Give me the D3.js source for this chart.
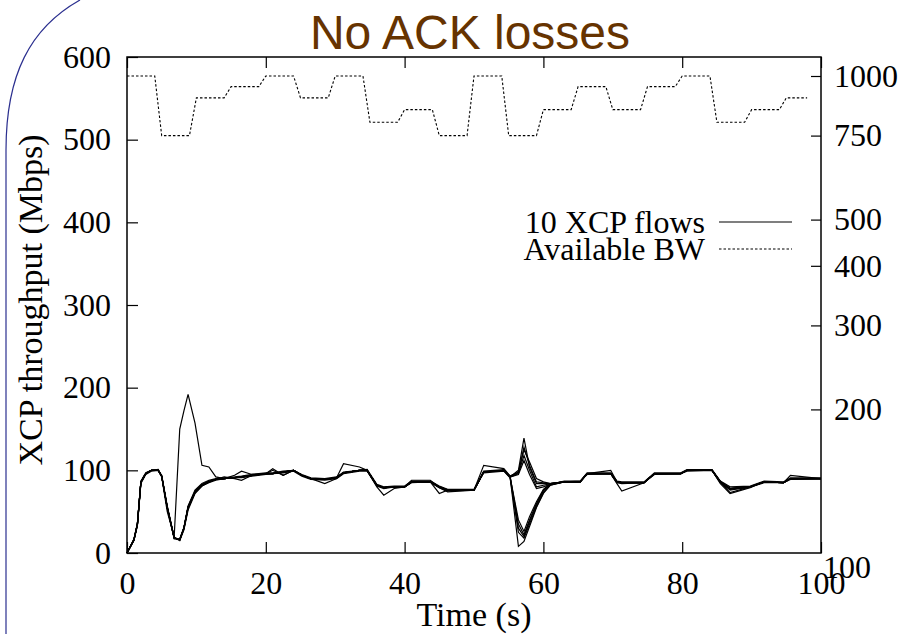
<!DOCTYPE html>
<html>
<head>
<meta charset="utf-8">
<script src="https://cdn.jsdelivr.net/npm/d3@7"></script>
<style>
  body { margin: 0; background: #fff; }
  text { font-family: "Liberation Serif", "Times New Roman", serif; fill: #000; }
  .title { font-family: "Liberation Sans", Arial, sans-serif; fill: #663300; }
  .flow-line { fill: none; stroke: #000; stroke-width: 1.2; }
  .bw-line { fill: none; stroke: #000; stroke-width: 1.1; stroke-dasharray: 2.5, 2; }
</style>
</head>
<body>
<svg width="910" height="634"></svg>
<script>
// time samples (s) shared by the 10 XCP flows
const flowTimes = [0, 1, 1.5, 2, 2.7, 3.5, 4.5, 5, 5.8, 6.8, 7.6, 8.2, 8.8, 9.8, 10.8,
  11.8, 12.8, 14, 15.5, 16.5, 18, 20, 21, 22.5, 24, 25.2, 26.5, 28.5, 30.2, 31.2,
  33.5, 34.6, 36, 37, 38.5, 40, 41, 43.7, 45, 46.2, 50, 51.4, 54.3, 55.2, 56.4,
  57.2, 58, 59, 60, 61, 63, 65.3, 66.3, 69.7, 70.6, 71.3, 74.5, 76, 79.8, 80.7,
  84.3, 85.5, 86.9, 89.8, 91.8, 94.6, 95.6, 100];

// throughput of each flow (Mbps)
const flow1 = [0, 16, 35, 86, 96, 100, 100, 93, 55, 18, 16, 30, 55, 74, 82,
  86, 89, 90, 91, 92, 94, 96, 96, 98, 100, 94, 90, 89, 91, 97,
  100, 100, 82, 79, 80, 80, 86, 86, 80, 76, 76, 98, 100, 92, 8,
  14, 32, 55, 72, 82, 86, 86, 96, 96, 86, 85, 85, 96, 96, 100,
  100, 86, 78, 80, 86, 85, 90, 90];
const flow2 = [0, 15, 33, 84, 95, 99, 100, 94, 57, 19, 15, 28, 52, 72, 81,
  85, 88, 90, 91, 91, 93, 95, 96, 97, 99, 93, 89, 88, 90, 96,
  99, 99, 81, 78, 80, 80, 85, 86, 79, 75, 76, 97, 99, 91, 25,
  18, 35, 56, 73, 82, 86, 87, 95, 96, 85, 84, 85, 95, 96, 99,
  100, 85, 77, 80, 85, 85, 89, 90];
const flow3 = [0, 17, 36, 87, 97, 100, 101, 93, 54, 17, 17, 31, 57, 76, 84,
  88, 90, 91, 92, 93, 95, 97, 97, 99, 100, 95, 91, 90, 92, 98,
  100, 101, 83, 80, 81, 81, 87, 87, 81, 77, 77, 99, 101, 93, 30,
  20, 38, 58, 75, 83, 87, 87, 97, 97, 87, 86, 86, 97, 97, 101,
  101, 87, 80, 81, 87, 86, 91, 91];
const flow4 = [0, 16, 34, 85, 96, 100, 100, 93, 55, 18, 16, 29, 54, 73, 81,
  86, 89, 90, 94, 99, 95, 96, 96, 98, 100, 94, 90, 89, 91, 97,
  100, 100, 80, 70, 78, 80, 86, 86, 79, 74, 76, 98, 100, 92, 35,
  22, 40, 60, 76, 83, 86, 86, 96, 96, 86, 85, 85, 96, 96, 100,
  100, 84, 72, 79, 86, 85, 90, 90];
const flow5 = [0, 16, 35, 86, 96, 100, 100, 93, 56, 18, 16, 30, 56, 75, 83,
  87, 89, 90, 91, 92, 94, 96, 102, 94, 100, 94, 90, 84, 90, 97,
  100, 100, 82, 79, 80, 80, 86, 86, 72, 76, 76, 98, 100, 92, 40,
  26, 44, 62, 77, 84, 86, 86, 96, 96, 84, 75, 85, 96, 96, 100,
  100, 86, 76, 80, 86, 85, 90, 90];
const flow6 = [0, 16, 35, 86, 96, 100, 100, 93, 55, 19, 16, 30, 55, 74, 82,
  86, 89, 90, 91, 92, 94, 96, 96, 98, 100, 94, 90, 89, 91, 108,
  104, 100, 82, 79, 80, 80, 86, 86, 80, 76, 76, 98, 100, 92, 100,
  139, 104, 84, 84, 84, 86, 86, 96, 96, 86, 85, 85, 96, 96, 100,
  100, 86, 78, 80, 86, 85, 90, 90];
const flow7 = [0, 16, 35, 86, 96, 100, 100, 93, 55, 18, 16, 30, 55, 74, 82,
  86, 89, 92, 90, 88, 94, 96, 96, 98, 100, 94, 90, 89, 91, 97,
  100, 100, 82, 79, 80, 80, 88, 88, 80, 76, 76, 106, 102, 93, 98,
  125, 110, 90, 86, 84, 86, 86, 96, 96, 86, 85, 85, 96, 96, 100,
  100, 86, 78, 80, 86, 85, 90, 90];
const flow8 = [0, 16, 35, 86, 96, 100, 100, 93, 55, 18, 16, 30, 55, 74, 82,
  86, 89, 90, 91, 92, 94, 96, 96, 98, 100, 94, 90, 89, 91, 97,
  100, 100, 82, 79, 80, 80, 86, 86, 80, 76, 76, 98, 100, 92, 96,
  118, 100, 80, 82, 84, 86, 86, 96, 100, 86, 85, 85, 96, 96, 100,
  100, 86, 78, 80, 86, 85, 94, 90];
const flow9 = [0, 16, 35, 86, 96, 100, 100, 93, 55, 18, 16, 30, 55, 74, 82,
  86, 89, 90, 91, 92, 94, 96, 100, 94, 100, 94, 90, 89, 91, 97,
  100, 100, 82, 79, 80, 80, 86, 86, 80, 76, 76, 98, 100, 92, 95,
  112, 95, 78, 80, 83, 86, 86, 96, 96, 86, 85, 85, 96, 96, 100,
  100, 86, 73, 80, 86, 85, 90, 90];
const flow10 = [0, 16, 35, 86, 96, 100, 100, 92, 50, 20, 150, 172, 192, 157, 106,
  104, 92, 90, 91, 92, 94, 96, 96, 98, 100, 94, 90, 89, 91, 97,
  100, 100, 82, 79, 80, 80, 86, 86, 80, 76, 76, 98, 100, 93, 97,
  128, 106, 86, 85, 84, 86, 86, 96, 96, 86, 85, 85, 96, 96, 100,
  100, 86, 78, 80, 86, 85, 90, 90];

// available bandwidth (Mbps, right log axis)
const bwTimes = [0, 4, 5, 9, 10, 14, 15, 19, 20, 24, 25, 29, 30, 34, 35, 39, 40, 44,
  45, 49, 50, 54, 55, 59, 60, 64, 65, 69, 70, 74, 75, 79, 80, 84, 85, 89, 90, 94, 95, 98];
const bwValues = [1000, 1000, 750, 750, 900, 900, 950, 950, 1000, 1000, 900, 900,
  1000, 1000, 800, 800, 850, 850, 750, 750, 1000, 1000, 750, 750, 850, 850,
  950, 950, 850, 850, 950, 950, 1000, 1000, 800, 800, 850, 850, 900, 900];

const xTicks = [0, 20, 40, 60, 80, 100];
const yTicks = [0, 100, 200, 300, 400, 500, 600];
const y2Ticks = [100, 200, 300, 400, 500, 750, 1000];

const svg = d3.select("svg");

const margin = { top: 57, right: 89, bottom: 81, left: 127 };
const width = +svg.attr("width");
const height = +svg.attr("height");
const innerWidth = width - margin.left - margin.right;
const innerHeight = height - margin.top - margin.bottom;

const tickFont = "32px";
const labelFont = "34px";

// slide frame on the left
svg.append("path")
  .attr("d", "M80,0 C30,28 6,75 6,150 L6,634")
  .attr("fill", "none")
  .attr("stroke", "#2b2f8f")
  .attr("stroke-width", 1.2);

svg.append("text")
  .attr("class", "title")
  .attr("x", 470)
  .attr("y", 49)
  .attr("text-anchor", "middle")
  .style("font-size", "48px")
  .text("No ACK losses");

const xScale = d3.scaleLinear().domain([0, 100]).range([0, innerWidth]);
const yScale = d3.scaleLinear().domain([0, 600]).range([innerHeight, 0]);
const y2Scale = d3.scaleLog().domain([100, 1000]).range([innerHeight, 76 - margin.top]);

const g = svg.append("g")
  .attr("transform", `translate(${margin.left},${margin.top})`);

const styleAxis = sel => {
  sel.selectAll(".domain").remove();
  sel.selectAll(".tick line").attr("stroke", "#000").attr("stroke-width", 1.2);
  sel.selectAll(".tick text")
    .style("font-size", tickFont)
    .style("font-family", "'Liberation Serif', serif")
    .attr("fill", "#000");
};

g.append("g")
  .attr("transform", `translate(0,${innerHeight})`)
  .call(d3.axisBottom(xScale).tickValues(xTicks).tickSize(-11).tickPadding(18).tickFormat(d3.format("d")))
  .call(styleAxis);

g.append("g")
  .call(d3.axisTop(xScale).tickValues(xTicks).tickSize(-11).tickFormat(""))
  .call(styleAxis);

g.append("g")
  .call(d3.axisLeft(yScale).tickValues(yTicks).tickSize(-11).tickPadding(16).tickFormat(d3.format("d")))
  .call(styleAxis);

const y2AxisG = g.append("g")
  .attr("transform", `translate(${innerWidth},0)`)
  .call(d3.axisRight(y2Scale).tickValues(y2Ticks).tickSize(-10).tickPadding(13).tickFormat(d3.format("d")))
  .call(styleAxis);

// gnuplot drops the bottom y2 label into the corner
const y2Bottom = y2AxisG.selectAll(".tick").filter(d => d === 100);
y2Bottom.select("text").attr("x", 2).attr("y", 14);
y2Bottom.select("line").remove();

// plot border
g.append("rect")
  .attr("width", innerWidth)
  .attr("height", innerHeight)
  .attr("fill", "none")
  .attr("stroke", "#000")
  .attr("stroke-width", 1.5);

// axis labels
g.append("text")
  .attr("transform", "rotate(-90)")
  .attr("x", -(300 - margin.top))
  .attr("y", 30 - margin.left)
  .attr("dy", "0.35em")
  .attr("text-anchor", "middle")
  .style("font-size", labelFont)
  .text("XCP throughput (Mbps)");

g.append("text")
  .attr("x", 474 - margin.left)
  .attr("y", 614 - margin.top)
  .attr("dy", "0.35em")
  .attr("text-anchor", "middle")
  .style("font-size", labelFont)
  .text("Time (s)");

// lines
const flows = [flow1, flow2, flow3, flow4, flow5, flow6, flow7, flow8, flow9, flow10];

const flowLine = d3.line()
  .x((d, i) => xScale(flowTimes[i]))
  .y(d => yScale(d));

g.selectAll(".flow-line")
  .data(flows)
  .enter()
  .append("path")
  .attr("class", "flow-line")
  .attr("d", flowLine);

const bwLine = d3.line()
  .x((d, i) => xScale(bwTimes[i]))
  .y(d => y2Scale(d));

g.append("path")
  .attr("class", "bw-line")
  .attr("d", bwLine(bwValues));

// legend
const legend = g.append("g");
const legendItems = [
  { label: "10 XCP flows", cls: "flow-line", y: 222 },
  { label: "Available BW", cls: "bw-line", y: 249 }
];
legendItems.forEach(item => {
  legend.append("text")
    .attr("x", 705 - margin.left)
    .attr("y", item.y - margin.top)
    .attr("dy", "0.33em")
    .attr("text-anchor", "end")
    .style("font-size", "32px")
    .text(item.label);
  legend.append("line")
    .attr("class", item.cls)
    .attr("x1", 719 - margin.left)
    .attr("x2", 792 - margin.left)
    .attr("y1", item.y - margin.top)
    .attr("y2", item.y - margin.top);
});
</script>
</body>
</html>
